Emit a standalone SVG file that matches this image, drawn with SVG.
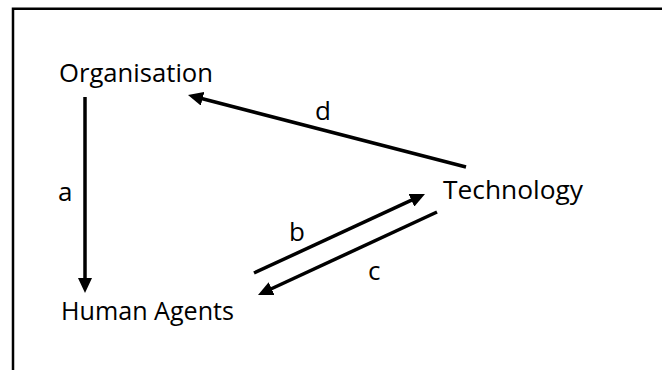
<svg xmlns="http://www.w3.org/2000/svg" width="662" height="370" viewBox="0 0 662 370">
<style>
text{font-family:"Open Sans","Liberation Sans",sans-serif;font-size:26px;fill:#000}
.conn{stroke:#000;stroke-width:3.5;fill:none}
.frame{stroke:#000;stroke-width:2.5;fill:none}
</style>
<defs>
<marker id="ah" viewBox="0 0 15 14" refX="2" refY="7" markerWidth="15" markerHeight="14" markerUnits="userSpaceOnUse" orient="auto">
<path d="M0,0 L15,7 L0,14 z" fill="#000"/>
</marker>
</defs>
<rect width="662" height="370" fill="#fff"/>
<path class="frame" d="M13,370 V8.7 H662"/>
<g id="node-organisation"><text x="59" y="82" textLength="154" lengthAdjust="spacingAndGlyphs">Organisation</text></g>
<g id="node-technology"><text x="443" y="199" textLength="140" lengthAdjust="spacingAndGlyphs">Technology</text></g>
<g id="node-human-agents"><text x="61" y="320" textLength="173" lengthAdjust="spacingAndGlyphs">Human Agents</text></g>
<g id="connectors">
<line class="conn" x1="85" y1="97" x2="85" y2="280" marker-end="url(#ah)"/>
<line class="conn" x1="466" y1="167" x2="200.6" y2="98.3" marker-end="url(#ah)"/>
<line class="conn" x1="254" y1="273" x2="413.2" y2="199.4" marker-end="url(#ah)"/>
<line class="conn" x1="437" y1="212" x2="269.8" y2="289.5" marker-end="url(#ah)"/>
<text x="58" y="201">a</text>
<text x="315" y="120">d</text>
<text x="289" y="241">b</text>
<text x="368" y="280">c</text>
</g>
</svg>
